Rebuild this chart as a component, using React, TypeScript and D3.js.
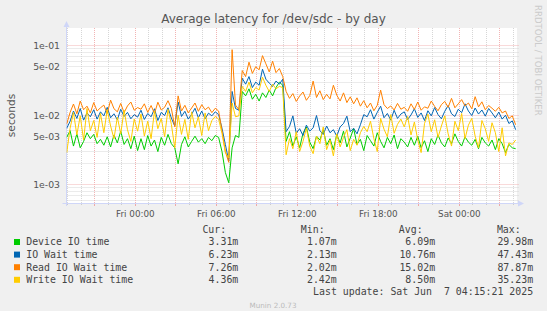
import React, { useEffect, useRef } from 'react';
import * as d3 from 'd3';

// samples every 15 minutes, first one Thu Jun 5 2025 18:55 (values in ms)
const START = Date.UTC(2025, 5, 5, 18, 55);
const STEP_MIN = 15;

const deviceIo = [
  4.8, 6.0, 3.6, 5.4, 3.4, 4.2, 5.6, 4.6, 5.3, 3.9, 4.5, 3.7, 4.9, 3.5, 5.2, 4.0, 5.9, 3.8, 4.6, 3.3, 5.0, 3.1,
  4.6, 3.2, 5.1, 3.6, 4.4, 3.0, 4.8, 3.7, 5.3, 3.9, 3.4, 2.0, 3.8, 4.9, 3.5, 4.2, 5.0, 4.1, 4.6, 3.9, 4.8, 4.3, 5.1,
  4.8, 3.0, 1.5, 1.07, 3.4, 5.1, 4.8,
  22, 19, 24, 17, 20, 16, 21, 18, 23, 19, 25, 29.98, 27,
  4.2, 5.8, 3.6, 4.9, 3.4, 5.5, 6.8, 4.1, 3.3, 5.0, 4.4, 6.2, 3.7, 4.6, 3.2, 5.3, 4.0, 5.9, 3.5, 4.7,
  6.4, 3.8, 4.5, 3.1, 5.1, 4.3, 3.6, 5.6, 4.2, 3.4, 4.8, 3.9, 5.2, 3.3, 4.6,
  4.1, 3.5, 4.8, 3.7, 5.0, 3.4, 4.3, 3.0, 4.6, 3.8, 5.2, 4.0, 3.5, 4.7, 3.9, 5.4, 4.2, 3.6, 4.9, 4.1,
  3.7, 4.5, 3.3, 4.8, 4.0, 3.6, 4.4, 3.2, 4.6, 3.9, 2.9, 3.8, 3.4, 3.3
];

const ioWait = [
  6.5, 8.2, 11.5, 9.0, 12.5, 8.5, 10.8, 9.5, 12.0, 8.8, 11.2, 9.8, 13.0, 9.2, 10.5, 8.6, 12.2, 9.6, 11.0, 8.9, 10.2, 9.4,
  11.8, 8.7, 10.6, 9.5, 12.4, 8.4, 11.0, 9.9, 12.8, 9.1, 7.0, 15.5, 9.6, 11.4, 8.8, 10.3, 12.6, 9.2, 11.5, 8.9, 10.7, 9.8, 11.2,
  10.2, 6.5, 3.8, 2.2, 22.0, 12.5, 11.8,
  34, 28, 36, 25, 30, 27, 46, 33, 29, 26, 31, 28, 33,
  5.8, 6.9, 9.8, 5.5, 6.4, 5.1, 7.2, 5.9, 6.6, 9.9, 6.0, 5.3, 7.0, 5.6, 6.2, 5.0, 6.8, 7.6, 9.7, 5.8, 6.5, 5.4, 7.3, 10.2,
  9.5, 12.0, 8.8, 11.0, 13.5, 9.2, 10.6, 8.5, 11.8, 9.0, 10.4,
  11.2, 8.7, 10.1, 12.4, 9.3, 10.8, 8.4, 11.6, 9.8, 12.9, 10.2, 8.9, 11.4, 13.8, 10.5, 9.6, 12.2, 10.9, 14.6, 11.5,
  9.9, 12.7, 10.4, 11.9, 9.7, 12.5, 10.8, 9.2, 11.1, 8.8, 10.0, 7.6, 8.3, 6.2
];

const readWait = [
  7.5, 11.0, 14.5, 10.5, 16.0, 12.0, 13.5, 10.8, 15.2, 11.5, 12.8, 14.0, 10.6, 16.5, 12.4, 11.2, 14.8, 10.9, 13.6, 15.5, 11.8, 12.9,
  12.2, 14.6, 11.0, 13.8, 10.6, 15.4, 11.9, 13.0, 16.2, 12.5, 6.8, 19.0, 11.5, 13.9, 10.8, 12.7, 15.0, 11.4, 14.2, 12.0, 13.1, 10.9, 12.6,
  11.5, 6.0, 3.0, 2.1, 87.87, 14.0, 12.0,
  44, 36, 58, 40, 50, 45, 72, 55, 42, 60, 41, 47, 36,
  22.0, 17.5, 20.5, 15.8, 18.9, 21.6, 16.4, 19.2, 31.0, 18.0, 22.5, 16.8, 20.0, 17.2, 27.0, 19.5, 16.0, 21.0, 15.2, 18.4, 14.6, 17.8, 13.5, 16.2,
  12.8, 15.0, 11.6, 13.9, 23.0, 14.2, 12.5, 13.6, 11.9, 14.8, 12.2,
  13.0, 11.4, 14.6, 12.1, 15.5, 11.8, 13.2, 12.6, 16.0, 13.4, 11.6, 14.2, 15.8, 13.0, 17.5, 12.8, 14.6, 16.8, 13.6, 15.0,
  12.4, 18.5, 13.2, 15.6, 12.0, 13.8, 12.6, 11.4, 13.0, 10.8, 11.5, 9.0, 9.8, 7.3
];

const writeWait = [
  2.9, 6.5, 11.0, 5.2, 9.8, 4.4, 12.5, 6.0, 8.4, 4.8, 10.6, 5.6, 12.0, 7.0, 4.6, 9.4, 5.4, 11.8, 6.2, 4.2, 8.8, 5.9,
  10.4, 5.0, 8.2, 4.6, 11.5, 6.4, 9.0, 4.9, 12.2, 7.4, 3.4, 10.0, 5.3, 8.7, 4.5, 11.2, 6.6, 9.5, 5.1, 10.8, 6.0, 8.4, 9.6,
  8.8, 5.5, 2.9, 2.42, 15.0, 9.5, 9.8,
  26, 22, 30, 21, 25, 23, 35.23, 27, 22, 28, 24, 26, 25,
  2.7, 4.6, 3.3, 5.8, 3.0, 4.2, 6.5, 3.6, 2.8, 5.0, 3.9, 6.8, 3.2, 4.4, 2.6, 5.4, 3.5, 4.8, 6.2, 3.1, 4.5, 3.7, 5.6, 6.9,
  5.8, 8.2, 4.6, 3.0, 9.0, 6.3, 4.9, 10.2, 5.5, 7.4, 8.8,
  6.8, 9.6, 5.2, 8.0, 4.4, 2.9, 7.6, 10.4, 5.8, 8.6, 4.8, 7.0, 9.8, 5.4, 3.6, 8.2, 6.0, 10.6, 4.6, 7.2,
  9.0, 5.0, 3.4, 8.4, 6.4, 4.2, 7.8, 5.6, 3.0, 6.6, 2.6, 4.0, 3.8, 4.4
];

const seriesNames = ['Device IO time', 'IO Wait time', 'Read IO Wait time', 'Write IO Wait time'];
const seriesColors = ['#00CC00', '#0066B3', '#FF8000', '#FFCC00'];
const curValues = ['3.31m', '6.23m', '7.26m', '4.36m'];
const minValues = ['1.07m', '2.13m', '2.02m', '2.42m'];
const avgValues = ['6.09m', '10.76m', '15.02m', '8.50m'];
const maxValues = ['29.98m', '47.43m', '87.87m', '35.23m'];

const yTickValues = [1e-1, 5e-2, 1e-2, 5e-3, 1e-3];
const yTickLabels = ['1e-01', '5e-02', '1e-02', '5e-03', '1e-03'];

const FONT = "'DejaVu Sans', sans-serif";
const MONO = "'DejaVu Sans Mono', monospace";

const App = () => {
  const svgRef = useRef<SVGSVGElement>(null);

  useEffect(() => {
    document.body.style.margin = '0';
    if (!svgRef.current) return;
    const width = 547;
    const height = 311;
    const left = 66.5, right = 517, top = 28, bottom = 203;

    const svg = d3.select(svgRef.current);
    svg.selectAll('*').remove();

    svg.append('rect').attr('width', width).attr('height', height).attr('fill', '#F0F0F0');
    svg.append('rect')
      .attr('x', left).attr('y', top)
      .attr('width', right - left).attr('height', bottom - top)
      .attr('fill', '#FFFFFF');

    const x = d3.scaleUtc()
      .domain([new Date(Date.UTC(2025, 5, 5, 18, 54)), new Date(Date.UTC(2025, 5, 7, 4, 16))])
      .range([left, right]);
    const y = d3.scaleLog()
      .domain([5.46e-4, 0.18])
      .range([bottom, top]);

    const minorColor = '#D6D6D6';
    const majorColor = '#F2B4B4';

    // horizontal grid
    for (let e = -4; e <= -1; e++) {
      for (let k = 1; k <= 9; k++) {
        const v = k * Math.pow(10, e);
        if (v < y.domain()[0] || v > y.domain()[1]) continue;
        const yy = Math.floor(y(v)) + 0.5;
        svg.append('line')
          .attr('x1', left).attr('x2', right + 2)
          .attr('y1', yy).attr('y2', yy)
          .attr('stroke', k === 1 ? majorColor : minorColor)
          .attr('stroke-dasharray', '1,1');
      }
    }

    // vertical grid
    const hours = d3.utcHour.every(1)!.range(x.domain()[0], x.domain()[1]);
    hours.forEach(h => {
      const major = h.getUTCHours() % 3 === 0;
      const xx = Math.floor(x(h)) + 0.5;
      svg.append('line')
        .attr('x1', xx).attr('x2', xx)
        .attr('y1', top).attr('y2', bottom)
        .attr('stroke', major ? majorColor : minorColor)
        .attr('stroke-dasharray', '1,1');
      svg.append('line')
        .attr('x1', xx).attr('x2', xx)
        .attr('y1', bottom).attr('y2', bottom + (major ? 3 : 2))
        .attr('stroke', major ? '#EFA8A8' : '#CCCCCC');
    });

    // axes
    const axisColor = '#CFD6F8';
    svg.append('line')
      .attr('x1', left).attr('x2', left)
      .attr('y1', top - 1).attr('y2', bottom + 3)
      .attr('stroke', axisColor);
    svg.append('line')
      .attr('x1', left - 4).attr('x2', right + 2)
      .attr('y1', bottom + 0.5).attr('y2', bottom + 0.5)
      .attr('stroke', axisColor);
    svg.append('path')
      .attr('d', `M${left - 3},${top - 1}L${left},${top - 7}L${left + 3},${top - 1}Z`)
      .attr('fill', axisColor);
    svg.append('path')
      .attr('d', `M${right + 1},${bottom - 2.5}L${right + 7},${bottom + 0.5}L${right + 1},${bottom + 3.5}Z`)
      .attr('fill', axisColor);

    // y labels
    yTickValues.forEach((v, i) => {
      svg.append('text')
        .attr('x', 60).attr('y', Math.floor(y(v)) + 0.5)
        .attr('dy', '0.36em')
        .attr('text-anchor', 'end')
        .attr('font-family', FONT).attr('font-size', 9.3)
        .attr('fill', '#555')
        .text(yTickLabels[i]);
    });

    // x labels
    const fmt = d3.utcFormat('%a %H:%M');
    d3.utcHour.every(6)!.range(x.domain()[0], x.domain()[1]).forEach(h => {
      svg.append('text')
        .attr('x', x(h)).attr('y', 217)
        .attr('text-anchor', 'middle')
        .attr('font-family', FONT).attr('font-size', 8.8)
        .attr('fill', '#555')
        .text(fmt(h));
    });

    // unit label
    svg.append('text')
      .attr('transform', `translate(15, ${(top + bottom) / 2}) rotate(-90)`)
      .attr('text-anchor', 'middle')
      .attr('font-family', FONT).attr('font-size', 10.6)
      .attr('fill', '#555')
      .text('seconds');

    // title
    svg.append('text')
      .attr('x', width / 2).attr('y', 23)
      .attr('text-anchor', 'middle')
      .attr('font-family', FONT).attr('font-size', 12)
      .attr('fill', '#555')
      .text('Average latency for /dev/sdc - by day');

    // watermark
    svg.append('text')
      .attr('transform', 'translate(535, 5) rotate(90)')
      .attr('font-family', FONT).attr('font-size', 8.6)
      .attr('fill', '#CBCBCB')
      .text('RRDTOOL / TOBI OETIKER');

    // lines
    svg.append('clipPath').attr('id', 'plot-clip')
      .append('rect')
      .attr('x', left).attr('y', top)
      .attr('width', right - left).attr('height', bottom - top);

    const times = deviceIo.map((_, i) => new Date(START + i * STEP_MIN * 60000));
    const line = d3.line<number>()
      .x((_, i) => x(times[i]))
      .y(d => y(d / 1000));

    [deviceIo, ioWait, readWait, writeWait].forEach((s, i) => {
      svg.append('path')
        .datum(s)
        .attr('clip-path', 'url(#plot-clip)')
        .attr('d', line)
        .attr('fill', 'none')
        .attr('stroke', seriesColors[i])
        .attr('stroke-width', 1);
    });

    // legend
    const headers = [['Cur:', 202.4], ['Min:', 300.8], ['Avg:', 398.8], ['Max:', 496.9]];
    headers.forEach(([t, hx]) => {
      svg.append('text')
        .attr('x', hx).attr('y', 232.5)
        .attr('font-family', MONO).attr('font-size', 9.9)
        .attr('fill', '#444')
        .text(t as string);
    });
    const cols = [curValues, minValues, avgValues, maxValues];
    const colRight = [238.3, 336.7, 435.1, 533.1];
    seriesNames.forEach((name, i) => {
      const by = 245.3 + i * 12.6;
      svg.append('rect')
        .attr('x', 14).attr('y', by - 6.3)
        .attr('width', 6).attr('height', 6)
        .attr('fill', seriesColors[i]);
      svg.append('text')
        .attr('x', 26.2).attr('y', by)
        .attr('font-family', MONO).attr('font-size', 9.9)
        .attr('fill', '#444')
        .text(name);
      cols.forEach((c, j) => {
        svg.append('text')
          .attr('x', colRight[j]).attr('y', by)
          .attr('text-anchor', 'end')
          .attr('font-family', MONO).attr('font-size', 9.9)
          .attr('fill', '#444')
          .text(c[i]);
      });
    });
    svg.append('text')
      .attr('x', 533.1).attr('y', 295.3)
      .attr('text-anchor', 'end')
      .attr('xml:space', 'preserve')
      .style('white-space', 'pre')
      .attr('font-family', MONO).attr('font-size', 9.9)
      .attr('fill', '#444')
      .text('Last update: Sat Jun  7 04:15:21 2025');

    svg.append('text')
      .attr('x', 273).attr('y', 307.5)
      .attr('text-anchor', 'middle')
      .attr('font-family', FONT).attr('font-size', 7.2)
      .attr('fill', '#BBBBBB')
      .text('Munin 2.0.73');
  }, []);

  return (
    <svg ref={svgRef} width={547} height={311} style={{ display: 'block' }} />
  );
};

export default App;
